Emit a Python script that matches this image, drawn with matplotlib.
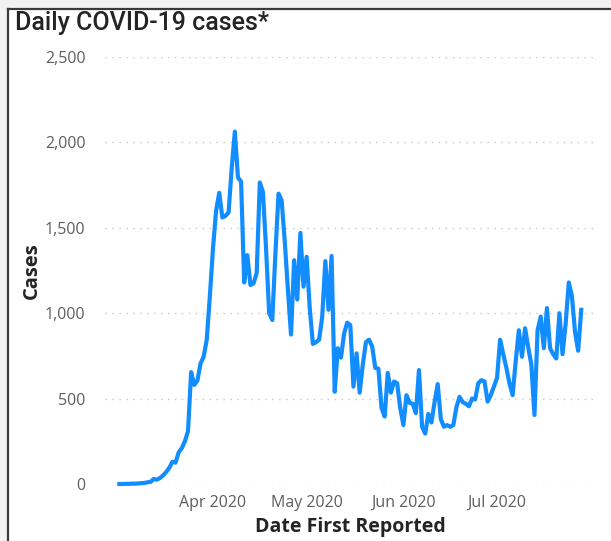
import matplotlib
matplotlib.use("Agg")
import matplotlib.pyplot as plt
import matplotlib.dates as mdates
from matplotlib.ticker import FuncFormatter
import numpy as np

# daily cases, starting 2 Mar 2020
first_day = np.datetime64("2020-03-02")
cases = [
    0, 0, 1, 1, 2, 2, 3, 5, 6, 10,
    12, 30, 25, 35, 50, 70, 95, 130, 125, 185,
    210, 250, 310, 655, 580, 605, 705, 745, 845, 1100,
    1380, 1600, 1705, 1560, 1570, 1590, 1850, 2063, 1795, 1770,
    1180, 1340, 1165, 1175, 1235, 1765, 1710, 1380, 1000, 960,
    1350, 1700, 1660, 1420, 1140, 875, 1310, 1080, 1470, 1155,
    1330, 1030, 820, 830, 845, 980, 1305, 1020, 1335, 540,
    795, 740, 880, 945, 930, 570, 765, 535, 700, 830,
    845, 805, 680, 675, 445, 395, 650, 535, 600, 590,
    445, 345, 520, 475, 470, 415, 667, 335, 295, 410,
    360, 480, 585, 380, 335, 345, 335, 345, 450, 510,
    480, 470, 455, 500, 495, 590, 608, 600, 482, 520,
    570, 620, 845, 760, 680, 590, 520, 720, 900, 745,
    912, 800, 700, 404, 900, 980, 795, 1030, 795, 760,
    735, 1000, 760, 940, 1180, 1100, 890, 780, 1020,
]
dates = first_day + np.arange(len(cases))
y_ticks = [0, 500, 1000, 1500, 2000, 2500]
month_ticks = ["2020-04-01", "2020-05-01", "2020-06-01", "2020-07-01"]

fig = plt.figure(figsize=(6.11, 5.41), dpi=100, facecolor="#f2f2f2")
# white card with a dark border on top and left
fig.patches.append(plt.Rectangle((8 / 611, 0), 1, 1 - 9 / 541, transform=fig.transFigure,
                                 facecolor="white", edgecolor="none", zorder=-5))
fig.lines.append(plt.Line2D([8 / 611, 1], [1 - 9 / 541, 1 - 9 / 541], transform=fig.transFigure,
                            color="#3a3a3a", lw=1.6))
fig.lines.append(plt.Line2D([8 / 611, 8 / 611], [0, 1 - 9 / 541], transform=fig.transFigure,
                            color="#3a3a3a", lw=1.6))

ax = fig.add_axes([105 / 611, 57 / 541, 490 / 611, 427 / 541])
ax.set_zorder(2)
ax.set_facecolor("none")
ax.plot(dates, cases, color="#118dff", lw=3.0, solid_joinstyle="round", clip_on=False, zorder=3)

ax.set_ylim(0, 2500)
ax.set_yticks(y_ticks)
ax.yaxis.set_major_formatter(FuncFormatter(lambda v, p: f"{int(v):,}"))
apr1 = np.datetime64("2020-04-01")
ax.set_xlim(mdates.date2num(apr1) - 34.6, mdates.date2num(apr1) + 122.4)
ax.set_xticks([mdates.date2num(np.datetime64(m)) for m in month_ticks])
ax.xaxis.set_major_formatter(mdates.DateFormatter("%b %Y"))

ax.grid(axis="y", color="#c8c6c4", linestyle=(0, (1, 4)), lw=1.0)
ax.grid(axis="x", visible=False)
for s in ax.spines.values():
    s.set_visible(False)
ax.tick_params(length=0, labelsize=11.5, labelcolor="#605e5c", pad=14)
ax.tick_params(axis="x", pad=8)
for lab in ax.get_xticklabels() + ax.get_yticklabels():
    lab.set_family("Open Sans")

ax.set_ylabel("Cases", fontsize=14.5, fontweight="bold", color="#252423", family="Open Sans", labelpad=2)
ax.set_xlabel("Date First Reported", fontsize=14, fontweight="bold", color="#252423",
              family="Open Sans", labelpad=4)
fig.text(15 / 611, 1 - 23 / 541, "Daily COVID-19 cases*", fontsize=18, fontweight="medium",
         family="Roboto", color="#252423", va="center", ha="left")

fig.savefig("out.png", dpi=100, facecolor=fig.get_facecolor())
